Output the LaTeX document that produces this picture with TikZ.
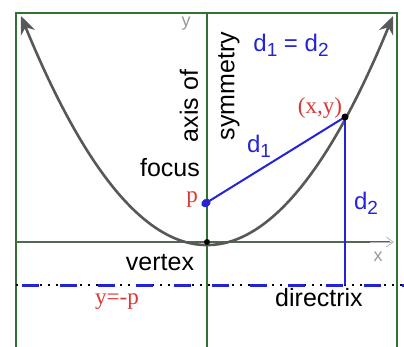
\documentclass[tikz,border=0pt]{standalone}
\usepackage{fontspec}
\setmainfont{Liberation Sans}
\newfontfamily\serifrm{Liberation Serif}
\usetikzlibrary{arrows.meta,calc}
\definecolor{frameg}{RGB}{52,112,52}
\definecolor{axisg}{RGB}{80,105,80}
\definecolor{parg}{RGB}{88,88,88}
\definecolor{dblue}{RGB}{35,35,215}
\definecolor{lred}{RGB}{220,55,55}
\newcommand\mysub[1]{\raisebox{-0.4ex}{\fontsize{19}{19}\selectfont #1}}
\tikzset{
  lbl/.style={inner sep=0pt, font=\fontsize{25}{28}\selectfont, text=black},
  bluelbl/.style={inner sep=0pt, font=\fontsize{24}{28}\selectfont, text=dblue},
  redlbl/.style={inner sep=0pt, font=\serifrm\fontsize{23}{26}\selectfont, text=lred},
  graylbl/.style={inner sep=0pt, font=\fontsize{18}{20}\selectfont, text=gray!80},
  frameline/.style={draw=frameg, line width=2pt},
  dline/.style={draw=dblue, line width=2pt},
}
\begin{document}
\begin{tikzpicture}[x=1pt,y=-1pt]
\useasboundingbox (0,0) rectangle (404,347);
\fill[white] (0,0) rectangle (404,347);
% frame
\draw[frameline] (16,347) -- (16,13) -- (397,13) -- (397,347);
% coordinates
\coordinate (V) at (207,242);
\coordinate (F) at (206,203);
\coordinate (P) at (345,117);
\coordinate (D) at (345,285);
\coordinate (YT) at (207,13);
\coordinate (YB) at (207,347);
\coordinate (XL) at (16,242);
\coordinate (XR) at (394,242);
\coordinate (XA) at (370,242);
\coordinate (DL) at (16,285);
\coordinate (DR) at (404,285);
% axes
\draw[frameg, line width=1.6pt] (YT) -- (YB);
\draw[axisg, line width=1.4pt] (XL) -- (V) -- ($(XR)+(-4,0)$);
\draw[gray!55, line width=0.8pt, -{Straight Barb[length=7pt,width=10pt]}] (XA) -- (XR);
% directrix
\draw[black, line width=1.4pt, dash pattern=on 2pt off 6pt] (DL) -- (DR);
\draw[dblue, line width=3pt, dash pattern=on 17pt off 21pt, dash phase=-6pt] (DL) -- (DR);
% parabola
\draw[parg, line width=2.6pt, {Stealth[length=18pt,width=15pt]}-{Stealth[length=18pt,width=15pt]}]
  (21,16) .. controls (145,318) and (269,318) .. (393,16);
% d1, d2
\draw[dline] (F) -- (P);
\draw[dline] (P) -- (D);
\fill[dblue, rotate around={30:(F)}] (F) ellipse (5pt and 4pt);
\fill[black] (P) circle (3.5pt);
\fill[black] (V) circle (3pt);
% labels
\node[graylbl] (ylab) at (186,24) {y};
\node[graylbl] (xlab) at (378,257) {x};
\node[lbl, rotate=90] (axisof) at (189,106) {axis of};
\node[lbl, rotate=90] (symm) at (229,86) {symmetry};
\node[bluelbl] (eq) at (291,45) {d\mysub{1} = d\mysub{2}};
\node[redlbl] (xy) at (320,108) {(x,y)};
\node[bluelbl] (d1) at (259,146) {d\mysub{1}};
\node[bluelbl] (d2) at (366,203) {d\mysub{2}};
\node[lbl] (focus) at (170,168) {focus};
\node[redlbl] (plab) at (192,200) {p};
\node[lbl] (vertex) at (160,263) {vertex};
\node[redlbl] (ymp) at (117,302) {y=-p};
\node[lbl] (directrix) at (319,298) {directrix};
\end{tikzpicture}
\end{document}
